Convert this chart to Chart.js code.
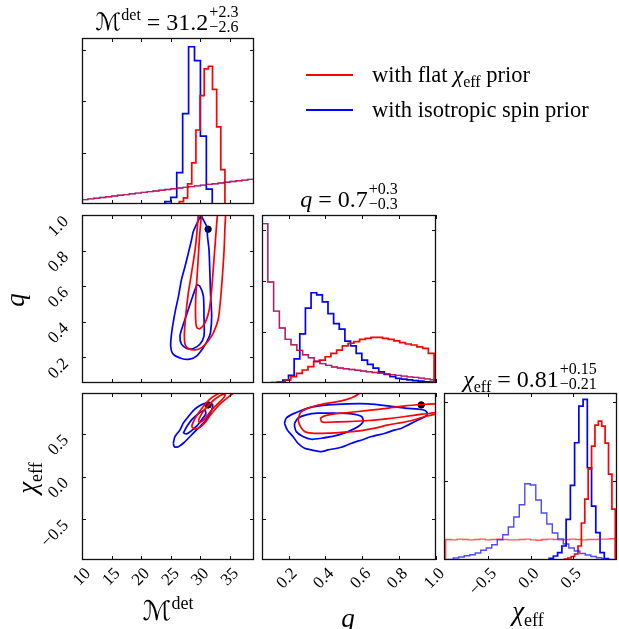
<!DOCTYPE html>
<html>
<head>
<meta charset="utf-8">
<script src="https://cdn.jsdelivr.net/npm/chart.js@4.4.1/dist/chart.umd.min.js"></script>
<style>
  body { margin: 0; background: #fff; }
  #fig { position: relative; width: 619px; height: 629px; overflow: hidden;
         font-family: "Liberation Serif", "DejaVu Serif", serif; color: #000; }
  #fig canvas { position: absolute; left: 0; top: 0; }
  .t { position: absolute; white-space: nowrap; line-height: 1; font-size: 24px; transform: translateX(-50%); }
  .t sup { font-size: 16px; vertical-align: 10px; line-height: 0; }
  .pm { display: inline-flex; flex-direction: column; font-size: 16px; line-height: 15px;
        vertical-align: 13px; margin-left: 1px; }
  .sub { font-size: 16px; vertical-align: -5px; line-height: 0; }
  .mc { font-family: "DejaVu Serif", "DejaVu Sans", serif; }
  .leg { position: absolute; left: 306px; font-size: 22.5px; white-space: nowrap; line-height: 1; }
  .leg b { display: inline-block; width: 47px; height: 0; border-top: 2px solid; vertical-align: 6px; margin-right: 19px; }
  .leg .sub { font-size: 16px; }
  .ax { font-size: 27px; }
  .ax sup { font-size: 18px; vertical-align: 11px; }
  .ax .sub { font-size: 18px; vertical-align: -6px; }
  .ylab { position: absolute; white-space: nowrap; line-height: 1;
          transform: translate(-50%, -50%) rotate(-90deg); }
</style>
</head>
<body>
<div id="fig">
  <canvas id="pM" width="619" height="629"></canvas>
  <canvas id="pMQ" width="619" height="629"></canvas>
  <canvas id="pQ" width="619" height="629"></canvas>
  <canvas id="pMC" width="619" height="629"></canvas>
  <canvas id="pQC" width="619" height="629"></canvas>
  <canvas id="pC" width="619" height="629"></canvas>

  <div class="t" style="left:167px;top:4px"><span class="mc">ℳ</span><sup>det</sup> = 31.2<span class="pm"><span>+2.3</span><span>−2.6</span></span></div>
  <div class="t" style="left:349px;top:181px"><i>q</i> = 0.7<span class="pm"><span>+0.3</span><span>−0.3</span></span></div>
  <div class="t" style="left:530px;top:361px"><i>χ</i><span class="sub">eff</span> = 0.81<span class="pm"><span>+0.15</span><span>−0.21</span></span></div>

  <div class="leg" style="top:64px;color:#f00"><b></b><span style="color:#000">with flat <i>χ</i><span class="sub">eff</span> prior</span></div>
  <div class="leg" style="top:99px;color:#00f"><b></b><span style="color:#000">with isotropic spin prior</span></div>

  <div class="t ax" style="left:168px;top:597px"><span class="mc">ℳ</span><sup>det</sup></div>
  <div class="t ax" style="left:348px;top:605px"><i>q</i></div>
  <div class="t ax" style="left:528px;top:598px"><i>χ</i><span class="sub">eff</span></div>
  <div class="ylab ax" style="left:15px;top:300px"><i>q</i></div>
  <div class="ylab ax" style="left:27px;top:478px"><i>χ</i><span class="sub">eff</span></div>
</div>

<script>
// ---- data ----
const truth = { mdet: 31.3, q: 0.92, chi: 0.84 };

const mdetRange = [10, 39.05];
const qRange = [0.056, 1.0];
const chiRangeX = [-1.02, 1.02];
const chiRangeY = [-0.98, 0.98];
const mdetDensRange = [0, 0.323];
const qDensRange = [0, 6.59];
const chiDensRange = [0, 4.23];

const mdetTicks = [10, 15, 20, 25, 30, 35];
const qTicks = [0.2, 0.4, 0.6, 0.8, 1.0];
const chiTicks = [-0.5, 0.0, 0.5];
const mdetDensTicks = [0.1, 0.2, 0.3];
const qDensTicks = [2, 4, 6];
const chiDensTicks = [2, 4];

// 1D histograms: first bin edge, bin width, densities
const mdetFlatStart = 26.44, mdetFlatWidth = 0.70;
const mdetFlat = [0.0045, 0.012, 0.039, 0.080, 0.144, 0.211, 0.263, 0.268, 0.223, 0.150, 0.067];
const mdetIsoStart = 24, mdetIsoWidth = 1;
const mdetIso = [0.0045, 0.013, 0.061, 0.176, 0.306, 0.279, 0.132, 0.029];
const mdetPriorStart = 10, mdetPriorWidth = 1;
const mdetPrior = [0.0085, 0.0099, 0.0113, 0.0127, 0.0141, 0.0155, 0.0169, 0.0183, 0.0198, 0.0212,
                   0.0226, 0.0240, 0.0254, 0.0268, 0.0282, 0.0296, 0.0310, 0.0324, 0.0339, 0.0353,
                   0.0367, 0.0381, 0.0395, 0.0409, 0.0423, 0.0437, 0.0451, 0.0465, 0.0479, 0.0490];

const qFlatStart = 0.15, qFlatWidth = 0.0311;
const qFlat = [0.04, 0.12, 0.25, 0.38, 0.51, 0.64, 0.84, 0.90, 1.03, 1.16, 1.29, 1.46, 1.56, 1.62,
               1.71, 1.75, 1.79, 1.79, 1.75, 1.71, 1.65, 1.58, 1.53, 1.49, 1.42, 1.36, 1.16];
const qIsoStart = 0.108, qIsoWidth = 0.0306;
const qIso = [0.02, 0.04, 0.11, 0.30, 0.95, 1.93, 2.94, 3.54, 3.46, 3.18, 2.72, 2.33, 2.11, 1.64,
              1.46, 1.16, 0.90, 0.73, 0.58, 0.44, 0.34, 0.25, 0.18, 0.15, 0.12, 0.09, 0.07, 0.05, 0.04];
const qPriorStart = 0.056, qPriorWidth = 0.03147;
const qPrior = [6.25, 3.96, 2.82, 2.16, 1.71, 1.50, 1.28, 1.11, 0.99, 0.86, 0.76, 0.69, 0.63, 0.59, 0.56,
                0.53, 0.50, 0.47, 0.44, 0.41, 0.38, 0.35, 0.33, 0.30, 0.27, 0.24, 0.22, 0.19, 0.16, 0.13];

const chiFlatStart = 0.40, chiFlatWidth = 0.04;
const chiFlat = [0.025, 0.051, 0.089, 0.152, 0.354, 0.937, 1.544, 2.304, 2.886, 3.418, 3.519, 3.392,
                 2.962, 2.177, 1.291];
const chiIsoStart = 0.22, chiIsoWidth = 0.05;
const chiIso = [0.043, 0.101, 0.185, 0.354, 1.030, 1.891, 2.970, 3.899, 4.068, 2.337, 1.367, 0.691,
                0.185, 0.033];
const chiFlatPriorStart = -1.0, chiFlatPriorWidth = 0.0667;
const chiFlatPrior = [0.52, 0.51, 0.53, 0.52, 0.51, 0.52, 0.53, 0.51, 0.52, 0.53, 0.52, 0.51, 0.51, 0.52,
                      0.53, 0.51, 0.50, 0.52, 0.53, 0.52, 0.51, 0.52, 0.53, 0.52, 0.51, 0.52, 0.52, 0.53,
                      0.53, 0.54];
const chiIsoPriorStart = -0.976, chiIsoPriorWidth = 0.0649;
const chiIsoPrior = [0.013, 0.051, 0.076, 0.109, 0.134, 0.177, 0.246, 0.304, 0.387, 0.514, 0.641, 0.835,
                     1.089, 1.400, 1.932, 1.899, 1.519, 1.190, 0.911, 0.684, 0.532, 0.405, 0.304, 0.228,
                     0.165, 0.127, 0.089, 0.058, 0.033, 0.013];

// 2D credible contours (50% and 90%), [x, y] in data units
const mqIso90 = [[30.1, 1.0], [28.8, 0.907], [28.5, 0.86], [27.96, 0.786], [27.4, 0.711], [26.8, 0.637],
  [26.3, 0.544], [25.7, 0.451], [25.15, 0.339], [24.98, 0.264], [25.4, 0.218], [26.8, 0.194], [28.2, 0.19],
  [29.4, 0.208], [30.5, 0.255], [31.3, 0.302], [31.7, 0.339], [31.9, 0.432], [31.7, 0.563], [31.6, 0.674],
  [31.45, 0.804], [31.2, 0.879], [31.06, 0.935], [30.5, 0.972], [30.1, 1.0]];
const mqIso50 = [[29.4, 0.609], [28.7, 0.544], [27.96, 0.469], [27.1, 0.385], [26.55, 0.32], [26.8, 0.274],
  [27.7, 0.25], [28.8, 0.25], [29.9, 0.274], [30.6, 0.32], [30.6, 0.432], [30.5, 0.544], [29.9, 0.6], [29.4, 0.609]];
const mqFlat90 = [[29.7, 1.03], [29.4, 0.898], [29.1, 0.804], [28.5, 0.674], [27.96, 0.563], [27.57, 0.451],
  [27.3, 0.339], [27.4, 0.274], [27.96, 0.25], [29.1, 0.242], [30.2, 0.255], [31.3, 0.292], [32.2, 0.339],
  [33.0, 0.413], [33.4, 0.525], [33.75, 0.674], [34.0, 0.804], [34.15, 0.935], [34.3, 1.03]];
const mqFlat50 = [[30.25, 1.03], [29.9, 0.898], [29.65, 0.767], [29.4, 0.637], [29.2, 0.525], [29.2, 0.413],
  [29.4, 0.367], [29.9, 0.361], [30.8, 0.395], [31.5, 0.469], [31.9, 0.581], [32.2, 0.711], [32.5, 0.842],
  [32.75, 0.953], [32.95, 1.03]];

const mcIso90 = [[25.42, 0.39], [25.7, 0.469], [26.55, 0.547], [27.1, 0.626], [27.96, 0.704], [28.8, 0.774],
  [29.65, 0.821], [30.5, 0.853], [31.6, 0.861], [32.07, 0.841], [31.9, 0.782], [31.3, 0.704], [30.5, 0.626],
  [29.65, 0.567], [28.8, 0.508], [27.96, 0.449], [27.1, 0.39], [26.27, 0.35], [25.6, 0.35], [25.42, 0.39]];
const mcIso50 = [[27.1, 0.508], [27.7, 0.586], [28.5, 0.665], [29.4, 0.724], [30.2, 0.763], [30.8, 0.774],
  [30.9, 0.735], [30.2, 0.665], [29.4, 0.594], [28.5, 0.539], [27.7, 0.5], [27.1, 0.508]];
const mcFlat90 = [[28.5, 0.586], [28.95, 0.665], [29.65, 0.743], [30.5, 0.821], [31.6, 0.908], [32.75, 0.962],
  [33.87, 0.998], [35.0, 1.037], [35.85, 1.037], [35.56, 0.979], [34.7, 0.932], [33.6, 0.869], [32.5, 0.79],
  [31.6, 0.712], [30.8, 0.633], [29.93, 0.578], [29.09, 0.555], [28.5, 0.586]];
const mcFlat50 = [[29.65, 0.657], [30.2, 0.735], [31.06, 0.814], [32.18, 0.892], [33.3, 0.947], [34.15, 0.97],
  [34.04, 0.932], [33.3, 0.88], [32.35, 0.814], [31.45, 0.743], [30.66, 0.673], [29.93, 0.633], [29.65, 0.657]];

const qcIso90 = [[0.178, 0.625], [0.187, 0.684], [0.224, 0.735], [0.269, 0.775], [0.324, 0.814], [0.414, 0.841],
  [0.523, 0.853], [0.632, 0.853], [0.741, 0.829], [0.832, 0.802], [0.905, 0.79], [0.941, 0.775], [0.954, 0.735],
  [0.941, 0.704], [0.905, 0.665], [0.85, 0.606], [0.814, 0.567], [0.778, 0.547], [0.723, 0.508], [0.651, 0.469],
  [0.596, 0.429], [0.542, 0.39], [0.487, 0.343], [0.414, 0.312], [0.378, 0.292], [0.324, 0.312], [0.287, 0.331],
  [0.251, 0.39], [0.224, 0.469], [0.193, 0.547], [0.178, 0.625]];
const qcIso50 = [[0.233, 0.625], [0.251, 0.684], [0.296, 0.724], [0.36, 0.743], [0.451, 0.743], [0.542, 0.735],
  [0.596, 0.704], [0.605, 0.645], [0.578, 0.586], [0.523, 0.527], [0.451, 0.476], [0.378, 0.449], [0.324, 0.437],
  [0.278, 0.469], [0.242, 0.527], [0.233, 0.586], [0.233, 0.625]];
const qcFlat90 = [[0.254, 0.684], [0.265, 0.751], [0.296, 0.794], [0.351, 0.833], [0.414, 0.861], [0.487, 0.888],
  [0.542, 0.924], [0.581, 0.971], [0.596, 1.018], [0.632, 1.057], [0.741, 1.037], [0.814, 0.998], [0.85, 0.978],
  [0.923, 0.986], [1.005, 0.982], [1.032, 0.865], [1.032, 0.743], [1.005, 0.735], [0.941, 0.704], [0.868, 0.657],
  [0.814, 0.633], [0.741, 0.606], [0.669, 0.567], [0.596, 0.539], [0.523, 0.524], [0.414, 0.508], [0.324, 0.508],
  [0.287, 0.527], [0.265, 0.586], [0.254, 0.645], [0.254, 0.684]];
const qcFlat50 = [[0.378, 0.645], [0.374, 0.684], [0.396, 0.712], [0.451, 0.735], [0.523, 0.751], [0.632, 0.775],
  [0.741, 0.802], [0.832, 0.829], [0.923, 0.845], [1.005, 0.853], [1.032, 0.853], [1.032, 0.763], [1.005, 0.751],
  [0.923, 0.731], [0.832, 0.704], [0.741, 0.68], [0.632, 0.657], [0.523, 0.645], [0.414, 0.637], [0.387, 0.637],
  [0.378, 0.645]];

// ---- layout ----
const W = 619, H = 629;
const cols = [[82, 172], [262, 174], [444, 173]];   // left, width
const rows = [[38, 166], [215, 168], [393, 167]];   // top, height
const RED = '#ff0000', BLUE = '#0000ff';
const RED_PRIOR = 'rgba(255,0,0,0.65)', BLUE_PRIOR = 'rgba(0,0,255,0.7)';

const fmt1 = v => v.toFixed(1).replace('-', '\u2212');
const fmt0 = v => String(v);

// frame, inward ticks on all sides, rotated tick labels
const cornerAxes = {
    id: 'cornerAxes',
    afterDraw(chart, args, opts) {
        const { ctx, chartArea: a, scales: { x, y } } = chart;
        ctx.save();
        ctx.strokeStyle = '#111';
        ctx.lineWidth = 1;
        ctx.beginPath();
        (opts.xTicks || []).forEach(v => {
            const px = Math.round(x.getPixelForValue(v)) + 0.5;
            ctx.moveTo(px, a.bottom); ctx.lineTo(px, a.bottom - 4);
            ctx.moveTo(px, a.top); ctx.lineTo(px, a.top + 4);
        });
        (opts.yTicks || []).forEach(v => {
            const py = Math.round(y.getPixelForValue(v)) + 0.5;
            ctx.moveTo(a.left, py); ctx.lineTo(a.left + 4, py);
            ctx.moveTo(a.right, py); ctx.lineTo(a.right - 4, py);
        });
        ctx.stroke();
        ctx.lineWidth = 1.3;
        ctx.strokeRect(a.left + 0.5, a.top + 0.5, a.right - a.left - 1, a.bottom - a.top - 1);

        ctx.fillStyle = '#000';
        ctx.font = '17px "Liberation Serif", "DejaVu Serif", serif';
        ctx.textAlign = 'right';
        ctx.textBaseline = 'middle';
        if (opts.xLabels) {
            opts.xTicks.forEach(v => {
                ctx.save();
                ctx.translate(x.getPixelForValue(v) + 6, a.bottom + 11);
                ctx.rotate(-Math.PI / 4);
                ctx.fillText(opts.xFormat(v), 0, 0);
                ctx.restore();
            });
        }
        if (opts.yLabels) {
            opts.yTicks.forEach(v => {
                ctx.save();
                ctx.translate(a.left - 16, y.getPixelForValue(v) + 4);
                ctx.rotate(-Math.PI / 4);
                ctx.fillText(opts.yFormat(v), 0, 0);
                ctx.restore();
            });
        }
        ctx.restore();
    }
};

function steps(start, width, vals) {
    const pts = [{ x: start, y: 0 }];
    vals.forEach((v, i) => pts.push({ x: start + i * width, y: v }));
    pts.push({ x: start + vals.length * width, y: 0 });
    return pts;
}

const hist = (start, width, vals, color, lw) => ({
    data: steps(start, width, vals), borderColor: color, borderWidth: lw || 1.7,
    stepped: true, fill: false, clip: 0
});
const contour = (pts, color) => ({
    data: pts.map(([x, y]) => ({ x, y })), borderColor: color, borderWidth: 1.7,
    tension: 0.25, fill: false, clip: 0
});
const dot = (x, y) => ({
    data: [{ x, y }], showLine: false, pointRadius: 3.2,
    pointBackgroundColor: '#000', pointBorderColor: '#000', clip: 0
});

function panel(id, col, row, xr, yr, datasets, axes) {
    new Chart(document.getElementById(id), {
        type: 'line',
        data: { datasets },
        options: {
            responsive: false,
            animation: false,
            events: [],
            layout: { padding: { left: col[0], top: row[0], right: W - col[0] - col[1], bottom: H - row[0] - row[1] } },
            scales: {
                x: { type: 'linear', min: xr[0], max: xr[1], display: false },
                y: { type: 'linear', min: yr[0], max: yr[1], display: false }
            },
            elements: { point: { radius: 0 } },
            plugins: { legend: { display: false }, tooltip: { enabled: false }, cornerAxes: axes }
        },
        plugins: [cornerAxes]
    });
}

// diagonal: 1D marginals
panel('pM', cols[0], rows[0], mdetRange, mdetDensRange, [
    hist(mdetPriorStart, mdetPriorWidth, mdetPrior, RED_PRIOR, 1.4),
    hist(mdetPriorStart, mdetPriorWidth, mdetPrior, BLUE_PRIOR, 1.4),
    hist(mdetFlatStart, mdetFlatWidth, mdetFlat, RED),
    hist(mdetIsoStart, mdetIsoWidth, mdetIso, BLUE)
], { xTicks: mdetTicks, yTicks: mdetDensTicks });

panel('pQ', cols[1], rows[1], qRange, qDensRange, [
    hist(qPriorStart, qPriorWidth, qPrior, RED_PRIOR, 1.4),
    hist(qPriorStart, qPriorWidth, qPrior, BLUE_PRIOR, 1.4),
    hist(qFlatStart, qFlatWidth, qFlat, RED),
    hist(qIsoStart, qIsoWidth, qIso, BLUE)
], { xTicks: qTicks, yTicks: qDensTicks });

panel('pC', cols[2], rows[2], chiRangeX, chiDensRange, [
    hist(chiFlatPriorStart, chiFlatPriorWidth, chiFlatPrior, RED_PRIOR, 1.4),
    hist(chiIsoPriorStart, chiIsoPriorWidth, chiIsoPrior, BLUE_PRIOR, 1.4),
    hist(chiFlatStart, chiFlatWidth, chiFlat, RED),
    hist(chiIsoStart, chiIsoWidth, chiIso, BLUE)
], { xTicks: chiTicks, yTicks: chiDensTicks, xLabels: true, xFormat: fmt1 });

// off-diagonal: 2D contours
panel('pMQ', cols[0], rows[1], mdetRange, qRange, [
    contour(mqFlat90, RED), contour(mqFlat50, RED),
    contour(mqIso90, BLUE), contour(mqIso50, BLUE),
    dot(truth.mdet, truth.q)
], { xTicks: mdetTicks, yTicks: qTicks, yLabels: true, yFormat: fmt1 });

panel('pMC', cols[0], rows[2], mdetRange, chiRangeY, [
    contour(mcFlat90, RED), contour(mcFlat50, RED),
    contour(mcIso90, BLUE), contour(mcIso50, BLUE),
    dot(truth.mdet, truth.chi)
], { xTicks: mdetTicks, yTicks: chiTicks, xLabels: true, xFormat: fmt0, yLabels: true, yFormat: fmt1 });

panel('pQC', cols[1], rows[2], qRange, chiRangeY, [
    contour(qcFlat90, RED), contour(qcFlat50, RED),
    contour(qcIso90, BLUE), contour(qcIso50, BLUE),
    dot(truth.q, truth.chi)
], { xTicks: qTicks, yTicks: chiTicks, xLabels: true, xFormat: fmt1 });
</script>
</body>
</html>
